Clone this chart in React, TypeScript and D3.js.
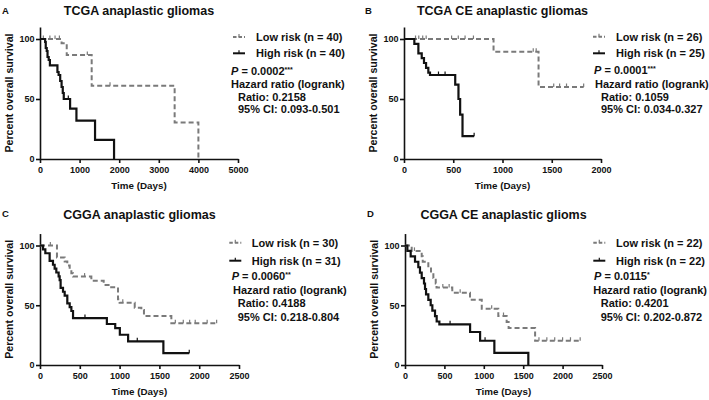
import React from 'react';
import * as d3 from 'd3';

// Kaplan-Meier steps: [days, percent survival]; the last pair closes the curve
const lowRiskA = [[0, 100], [545, 96.4], [675, 86.7], [1305, 61], [3400, 30.5], [4000, 0]];
const highRiskA = [[0, 100], [130, 97.5], [145, 92.5], [170, 90], [190, 85], [220, 82.5], [250, 78], [440, 72.5], [470, 70], [510, 65], [545, 60], [575, 55], [600, 50], [760, 42], [920, 32], [1390, 16], [1870, 0]];
const censorLowA = [84, 250, 380, 490, 1195, 1768];
const censorHighA = [715];

const lowRiskB = [[0, 100], [909, 89.4], [1366, 60], [1824, 60]];
const highRiskB = [[0, 100], [105, 96], [146, 88], [180, 84], [203, 80], [224, 76], [247, 72], [264, 70], [520, 62], [553, 50], [570, 37], [594, 19], [712, 19]];
const censorLowB = [117, 150, 190, 225, 483, 551, 620, 705, 1312, 1342, 1520, 1580, 1650, 1824];
const censorHighB = [350, 417, 712];

const lowRiskC = [[0, 100], [213, 90], [310, 86.7], [343, 83.3], [373, 80], [394, 76.7], [415, 74], [645, 70.5], [800, 67], [875, 65], [980, 55], [1000, 52], [1190, 48], [1273, 46], [1306, 41], [1650, 35], [2219, 35]];
const highRiskC = [[0, 100], [38, 96.8], [67, 93.5], [121, 87.1], [163, 83.9], [184, 80.6], [205, 77.4], [234, 74.2], [247, 71], [259, 64.5], [289, 61.3], [310, 58.1], [343, 51.6], [373, 48.4], [394, 45.2], [415, 39.3], [840, 34.3], [945, 30.9], [1003, 25.3], [1107, 19.8], [1550, 9.9], [1875, 9.9]];
const censorLowC = [130, 560, 1040, 1700, 1800, 1880, 1950, 2100, 2219];
const censorHighC = [565, 1222, 1875];

const lowRiskD = [[0, 100], [85, 95.5], [212, 90.9], [225, 86.4], [296, 81.8], [330, 77.3], [360, 72.7], [390, 68.2], [400, 64.8], [600, 60.5], [825, 54.6], [974, 47], [1184, 41], [1290, 36], [1315, 31], [1651, 20.3], [2223, 20.3]];
const highRiskD = [[0, 100], [30, 95.5], [72, 90.9], [127, 86.4], [169, 81.8], [190, 77.3], [212, 72.7], [241, 68.2], [254, 63.6], [267, 59.1], [296, 54.5], [326, 50], [347, 45.5], [381, 40.9], [402, 36.4], [436, 34], [826, 27.6], [953, 20.3], [1134, 10.1], [1565, 0]];
const censorLowD = [120, 480, 560, 700, 1100, 1250, 1700, 1800, 1900, 2000, 2100, 2223];
const censorHighD = [572, 1016];

const letters = ['A', 'B', 'C', 'D'];
const titles = ['TCGA anaplastic gliomas', 'TCGA CE anaplastic gliomas', 'CGGA anaplastic gliomas', 'CGGA CE anaplastic glioms'];
const nLow = [40, 26, 30, 22];
const nHigh = [40, 25, 31, 22];
const pValues = ['0.0002', '0.0001', '0.0060', '0.0115'];
const pStars = ['***', '***', '**', '*'];
const ratios = ['0.2158', '0.1059', '0.4188', '0.4201'];
const ciRanges = ['0.093-0.501', '0.034-0.327', '0.218-0.804', '0.202-0.872'];
const xTicksA = [0, 1000, 2000, 3000, 4000, 5000];
const xTicksB = [0, 500, 1000, 1500, 2000];
const xTicksCD = [0, 500, 1000, 1500, 2000, 2500];
const yTicks = [0, 50, 100];

const FONT = '"Liberation Sans", Arial, Helvetica, sans-serif';
const GREY = '#7a7a7a';

// layout of the four panels
const layout = [
    { left: 40, right: 238, y0: 159, y100: 39, xTicks: xTicksA, letterX: 2, letterY: 13.5, titleY: 15,
      sym: 233, txt: 256, px: 231, hx: 231, rx: 238, rows: [37, 53.3, 71, 84.3, 96.7, 109] },
    { left: 404, right: 601, y0: 159, y100: 39, xTicks: xTicksB, letterX: 365, letterY: 13.5, titleY: 15,
      sym: 593, txt: 616, px: 594, hx: 595, rx: 601, rows: [36.7, 53.3, 70, 84.3, 96.7, 109] },
    { left: 40, right: 239, y0: 365, y100: 245.5, xTicks: xTicksCD, letterX: 2, letterY: 217, titleY: 219,
      sym: 229.3, txt: 251.7, px: 231.7, hx: 233, rx: 237.7, rows: [242.7, 260.7, 276, 290, 303.3, 316.7] },
    { left: 405, right: 602, y0: 365, y100: 245.5, xTicks: xTicksCD, letterX: 367, letterY: 217, titleY: 219,
      sym: 593.3, txt: 616, px: 594, hx: 593.3, rx: 600.7, rows: [242.7, 260.7, 276, 290, 303.3, 316.7] },
];

const curves = [
    [lowRiskA, highRiskA, censorLowA, censorHighA],
    [lowRiskB, highRiskB, censorLowB, censorHighB],
    [lowRiskC, highRiskC, censorLowC, censorHighC],
    [lowRiskD, highRiskD, censorLowD, censorHighD],
];

class Axis extends React.Component<any> {
    axisElement: SVGGElement | null = null;
    componentDidMount() { this.renderAxis(); }
    componentDidUpdate() { this.renderAxis(); }

    renderAxis() {
        const axis = (this.props.orient === 'Bottom' ? d3.axisBottom(this.props.scale) : d3.axisLeft(this.props.scale))
            .tickValues(this.props.ticks)
            .tickFormat(d3.format('d'))
            .tickSize(4)
            .tickSizeOuter(0)
            .tickPadding(this.props.padding);
        const g = d3.select(this.axisElement);
        g.call(axis as any);
        g.selectAll('path, line').attr('stroke', '#111').attr('stroke-width', 1.6);
        g.selectAll('text')
            .attr('font-size', 9)
            .attr('font-weight', 'bold')
            .attr('font-family', FONT)
            .attr('fill', '#111');
    }

    render() {
        return <g ref={el => { this.axisElement = el; }} transform={this.props.translate} />;
    }
}

const valueAt = (data: number[][], t: number) => {
    let s = data[0][1];
    for (const d of data) if (d[0] <= t) s = d[1];
    return s;
};

const LegendSymbol = ({ x, y, dashed }) => (
    <g>
        <line x1={x} x2={x + 12} y1={y} y2={y} stroke={dashed ? GREY : '#111'} strokeWidth={2}
            strokeDasharray={dashed ? '3.5,2' : undefined} />
        <line x1={x + 6} x2={x + 6} y1={y - 3} y2={y} stroke={dashed ? GREY : '#111'} strokeWidth={1.2} />
    </g>
);

const Panel = ({ i }) => {
    const p = layout[i];
    const [low, high, cLow, cHigh] = curves[i];
    const xScale = d3.scaleLinear().domain([0, p.xTicks[p.xTicks.length - 1]]).range([p.left, p.right]);
    const yScale = d3.scaleLinear().domain([0, 110]).range([p.y0, p.y0 - 1.1 * (p.y0 - p.y100)]);
    const line = d3.line<number[]>()
        .x(d => xScale(d[0]))
        .y(d => yScale(d[1]))
        .curve(d3.curveStepAfter);
    const fs = 11;
    const base = (c: number) => c + 3.9;

    return (
        <g fontFamily={FONT} fontWeight="bold" fill="#111">
            <text x={p.letterX} y={p.letterY} fontSize={9.5}>{letters[i]}</text>
            <text x={(p.left + p.right) / 2} y={p.titleY} fontSize={12.5} textAnchor="middle">{titles[i]}</text>

            <Axis orient="Bottom" scale={xScale} ticks={p.xTicks} padding={4} translate={`translate(0,${p.y0})`} />
            <Axis orient="Left" scale={yScale} ticks={yTicks} padding={1.5} translate={`translate(${p.left},0)`} />

            <text x={(p.left + p.right) / 2} y={p.y0 + 30} fontSize={9.8} textAnchor="middle">Time (Days)</text>
            <text transform={`translate(${p.left - 27},${(p.y0 + yScale(110)) / 2})rotate(-90)`} fontSize={10.6}
                textAnchor="middle">Percent overall survival</text>

            <path d={line(low as any) || ''} fill="none" stroke={GREY} strokeWidth={2} strokeDasharray="5,3" />
            {(cLow as number[]).map((t, k) => {
                const yy = yScale(valueAt(low as number[][], t));
                return <line key={'cl' + k} x1={xScale(t)} x2={xScale(t)} y1={yy - 3.5} y2={yy} stroke={GREY} strokeWidth={1.2} />;
            })}
            <path d={line(high as any) || ''} fill="none" stroke="#111" strokeWidth={2.2} />
            {(cHigh as number[]).map((t, k) => {
                const yy = yScale(valueAt(high as number[][], t));
                return <line key={'ch' + k} x1={xScale(t)} x2={xScale(t)} y1={yy - 3.5} y2={yy} stroke="#111" strokeWidth={1.2} />;
            })}

            <LegendSymbol x={p.sym} y={p.rows[0]} dashed />
            <text x={p.txt} y={base(p.rows[0])} fontSize={fs}>{`Low risk (n = ${nLow[i]})`}</text>
            <LegendSymbol x={p.sym} y={p.rows[1]} dashed={false} />
            <text x={p.txt} y={base(p.rows[1])} fontSize={fs}>{`High risk (n = ${nHigh[i]})`}</text>
            <text x={p.px} y={base(p.rows[2])} fontSize={fs}>
                <tspan fontStyle="italic">P</tspan>
                <tspan>{` = ${pValues[i]}`}</tspan>
                <tspan fontSize={7} dy={-3}>{pStars[i]}</tspan>
            </text>
            <text x={p.hx} y={base(p.rows[3])} fontSize={fs}>Hazard ratio (logrank)</text>
            <text x={p.rx} y={base(p.rows[4])} fontSize={fs}>{`Ratio: ${ratios[i]}`}</text>
            <text x={p.rx} y={base(p.rows[5])} fontSize={fs}>{`95% CI: ${ciRanges[i]}`}</text>
        </g>
    );
};

export default function App() {
    return (
        <svg width={709} height={400} style={{ position: 'absolute', left: 0, top: 0, background: '#fff' }}>
            {[0, 1, 2, 3].map(i => <Panel key={i} i={i} />)}
        </svg>
    );
}
